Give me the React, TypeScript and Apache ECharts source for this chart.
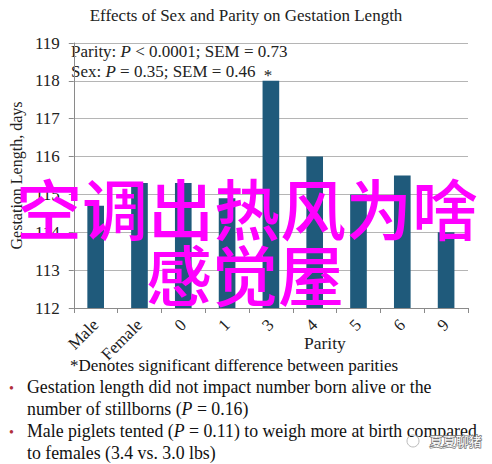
import { useEffect, useRef } from "react";
import * as echarts from "echarts";

const categories = ["Male", "Female", "0", "1", "3", "4", "5", "6", "9"];
const gestation = [114.7, 115.3, 115.3, 114.9, 118.0, 116.0, 115.0, 115.5, 114.0];
const starred = [4];
const bullets = [
  ["Gestation length did not impact number born alive or the", "number of stillborns ({i|P} = 0.16)"],
  ["Male piglets tented ({i|P} = 0.11) to weigh more at birth compared", "to females (3.4 vs. 3.0 lbs)"],
];

const serif = "'Liberation Serif', 'Times New Roman', serif";
const cjk = "'Noto Sans CJK SC', sans-serif";

const App = () => {
  const chartRef = useRef<HTMLDivElement>(null);

  useEffect(() => {
    document.body.style.margin = "0";
    if (!chartRef.current) return;
    const chart = echarts.init(chartRef.current, null, { renderer: "svg" });

    const rich = {
      i: { fontStyle: "italic" as const, fontFamily: serif, fontSize: 17, fill: "#222" },
    };

    const bulletTexts: any[] = [];
    bullets.forEach((b, k) => {
      const y0 = 389 + k * 44;
      bulletTexts.push({
        type: "text",
        left: 9,
        top: y0 - 8,
        style: { text: "•", fill: "#b0303a", font: `14px ${serif}` },
      });
      b.forEach((line, j) => {
        bulletTexts.push({
          type: "text",
          left: 27,
          top: y0 - 11 + j * 22,
          style: {
            text: line,
            fill: "#111",
            font: `17.8px ${serif}`,
            rich: { i: { fontStyle: "italic", fontSize: 17.8, fontFamily: serif, fill: "#111" } },
          },
        });
      });
    });

    chart.setOption({
      animation: false,
      backgroundColor: "#fff",
      title: {
        text: "Effects of Sex and Parity on Gestation Length",
        left: "center",
        top: 2,
        textStyle: { fontFamily: serif, fontWeight: "normal", fontSize: 17, color: "#222" },
      },
      grid: { left: 68, right: 24, top: 43, bottom: 156 },
      xAxis: {
        type: "category",
        data: categories,
        axisLine: { lineStyle: { color: "#8a8a8a" } },
        axisTick: { show: true, alignWithLabel: false, length: 5, lineStyle: { color: "#8a8a8a" } },
        axisLabel: {
          rotate: 45,
          interval: 0,
          margin: 14,
          fontFamily: serif,
          fontSize: 17,
          color: "#222",
        },
      },
      yAxis: {
        type: "value",
        min: 112,
        max: 119,
        interval: 1,
        name: "Gestation Length, days",
        nameLocation: "middle",
        nameGap: 44,
        nameTextStyle: { fontFamily: serif, fontSize: 16, color: "#222" },
        axisLine: { show: true, lineStyle: { color: "#8a8a8a" } },
        axisTick: { show: true, length: 5, lineStyle: { color: "#8a8a8a" } },
        splitLine: { lineStyle: { color: "#b5b5b5" } },
        axisLabel: { fontFamily: serif, fontSize: 17, color: "#222", margin: 14 },
      },
      series: [
        {
          type: "bar",
          barWidth: "38%",
          itemStyle: { color: "#1f5a7b" },
          data: gestation.map((v, i) =>
            starred.includes(i)
              ? {
                  value: v,
                  label: {
                    show: true,
                    position: "top",
                    formatter: "*",
                    fontFamily: serif,
                    fontSize: 17,
                    color: "#222",
                    distance: 0,
                    offset: [-3, 3],
                  },
                }
              : v
          ),
        },
      ],
      graphic: [
        {
          type: "text",
          left: 71,
          top: 41,
          style: {
            text: "Parity: {i|P} < 0.0001; SEM = 0.73\nSex: {i|P} = 0.35; SEM = 0.46",
            font: `17px ${serif}`,
            fill: "#222",
            lineHeight: 20,
            rich,
          },
        },
        {
          type: "text",
          left: 304,
          top: 334,
          style: { text: "Parity", font: `17.5px ${serif}`, fill: "#222" },
        },
        {
          type: "text",
          left: 70,
          top: 357,
          style: {
            text: "*Denotes significant difference between parities",
            font: `17px ${serif}`,
            fill: "#111",
          },
        },
        ...bulletTexts,
        {
          type: "circle",
          shape: { cx: 413, cy: 441, r: 6 },
          style: { fill: "none", stroke: "#bbb", lineWidth: 1 },
        },
        {
          type: "text",
          left: 429,
          top: 433,
          style: {
            text: "夏夏聊猪",
            font: `13px ${cjk}`,
            fill: "#fff",
            stroke: "#777",
            lineWidth: 1.5,
          },
        },
        {
          type: "text",
          x: 247,
          y: 206,
          z: 100,
          style: {
            text: "空调出热风为啥",
            font: `500 66px ${cjk}`,
            fill: "#ff00ff",
            align: "center",
            verticalAlign: "middle",
          },
        },
        {
          type: "text",
          x: 245,
          y: 272,
          z: 100,
          style: {
            text: "感觉屋",
            font: `500 66px ${cjk}`,
            fill: "#ff00ff",
            align: "center",
            verticalAlign: "middle",
          },
        },
      ],
    });

    return () => {
      chart.dispose();
    };
  }, []);

  return <div ref={chartRef} style={{ width: 492, height: 464 }}></div>;
};

export default App;
